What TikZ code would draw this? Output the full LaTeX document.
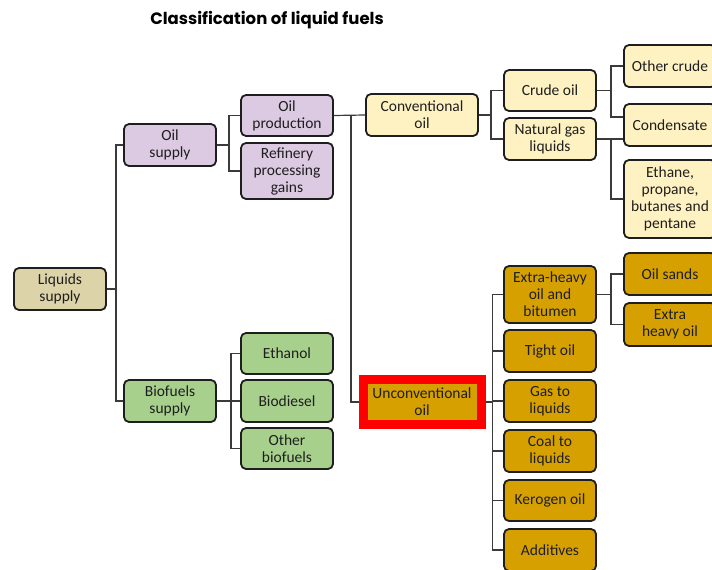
\documentclass[tikz,border=0pt]{standalone}
\usepackage{fontspec}
\setmainfont{Carlito}
\newfontfamily\titlefont{Poppins}
\usetikzlibrary{calc}
\definecolor{tanc}{HTML}{DDD3A8}
\definecolor{lavc}{HTML}{DCC9E2}
\definecolor{grnc}{HTML}{A8D08D}
\definecolor{ylwc}{HTML}{FFF2C2}
\definecolor{gldc}{HTML}{D6A100}
\definecolor{linec}{HTML}{3A3A3A}
\definecolor{txtc}{HTML}{1E1E1E}
\definecolor{redc}{HTML}{FF0000}
\tikzset{
  box/.style={draw=txtc, line width=1.8pt, rounded corners=5pt, align=center,
    minimum width=92pt, minimum height=42pt, inner sep=1pt, text=txtc,
    font=\fontsize{15.5}{17}\selectfont},
  conn/.style={draw=linec, line width=1.2pt},
}
\begin{document}
\begin{tikzpicture}[x=1pt,y=-1pt]
\useasboundingbox (0,0) rectangle (712,570);
\node[font=\titlefont\bfseries\fontsize{16.5}{18}\selectfont, text=black] (title) at (267,20) {Classification of liquid fuels};
% level 0
\node[box, fill=tanc] (liq) at (60,289) {Liquids\\supply};
% level 1
\node[box, fill=lavc] (oil) at (170,145) {Oil\\supply};
\node[box, fill=grnc] (bio) at (170,401) {Biofuels\\supply};
% level 2
\node[box, fill=lavc, minimum height=41pt] (oilprod) at (287,115.5) {Oil\\production};
\node[box, fill=lavc, minimum height=56pt] (ref) at (287,171) {Refinery\\processing\\gains};
\node[box, fill=grnc, minimum height=41pt] (eth) at (287,353.5) {Ethanol};
\node[box, fill=grnc] (biod) at (287,401) {Biodiesel};
\node[box, fill=grnc, minimum height=41pt] (othb) at (287,448.5) {Other\\biofuels};
% level 3
\node[box, fill=ylwc, minimum width=112pt] (conv) at (422,115) {Conventional\\oil};
\node[draw=redc, line width=9pt, fill=gldc, minimum width=118pt, minimum height=45pt,
  align=center, inner sep=1pt, text=txtc, font=\fontsize{15.5}{17}\selectfont] (unc) at (422,402) {Unconventional\\oil};
% level 4
\node[box, fill=ylwc, minimum height=41pt] (crude) at (550,90.5) {Crude oil};
\node[box, fill=ylwc] (ngl) at (550,139) {Natural gas\\liquids};
\node[box, fill=gldc, minimum height=57pt] (exh) at (550,294.5) {Extra-heavy\\oil and\\bitumen};
\node[box, fill=gldc] (tight) at (550,351) {Tight oil};
\node[box, fill=gldc] (gtl) at (550,401) {Gas to\\liquids};
\node[box, fill=gldc] (ctl) at (550,451) {Coal to\\liquids};
\node[box, fill=gldc, minimum height=41pt] (ker) at (550,500.5) {Kerogen oil};
\node[box, fill=gldc] (add) at (550,550) {Additives};
% level 5
\node[box, fill=ylwc] (othc) at (670,66) {Other crude};
\node[box, fill=ylwc] (cond) at (670,125) {Condensate};
\node[box, fill=ylwc, minimum height=78pt] (ethane) at (670,199) {Ethane,\\propane,\\butanes and\\pentane};
\node[box, fill=gldc] (sands) at (670,274) {Oil sands};
\node[box, fill=gldc, minimum height=43pt] (exheavy) at (670,324.5) {Extra\\heavy oil};
% connectors
\draw[conn] (liq.east) -- ++(9,0) coordinate (jl);
\draw[conn] (oil.west) -| (jl) |- (bio.west);
\draw[conn] (oil.east) -- ++(12,0) coordinate (jo);
\draw[conn] (oilprod.west) -| (jo) |- (ref.west);
\draw[conn] (bio.east) -- (biod.west);
\draw[conn] (eth.west) -| ($(bio.east)+(14,0)$) |- (othb.west);
\draw[conn] (oilprod.east) -- (conv.west);
\draw[conn] ($(oilprod.east)+(17,0)$) |- (unc.west);
\draw[conn] (conv.east) -- ++(12,0) coordinate (jc);
\draw[conn] (crude.west) -| (jc) |- (ngl.west);
\draw[conn] (crude.east) -- ++(14,0) coordinate (jcr);
\draw[conn] (othc.west) -| (jcr) |- ($(cond.west)+(0,-8)$);
\draw[conn] (ngl.east) -- (ngl.east -| cond.west);
\draw[conn] ($(ngl.east)+(14,0)$) |- (ethane.west);
\draw[conn] (unc.east) -- ++(7,0) coordinate (ju);
\draw[conn] (exh.west) -| (ju) |- (add.west);
\draw[conn] (ju |- gtl.west) -- (gtl.west);
\draw[conn] (ju |- tight.west) -- (tight.west);
\draw[conn] (ju |- ctl.west) -- (ctl.west);
\draw[conn] (ju |- ker.west) -- (ker.west);
\draw[conn] (exh.east) -- ++(14,0) coordinate (je);
\draw[conn] (sands.west) -| (je) |- (exheavy.west);
\end{tikzpicture}
\end{document}
